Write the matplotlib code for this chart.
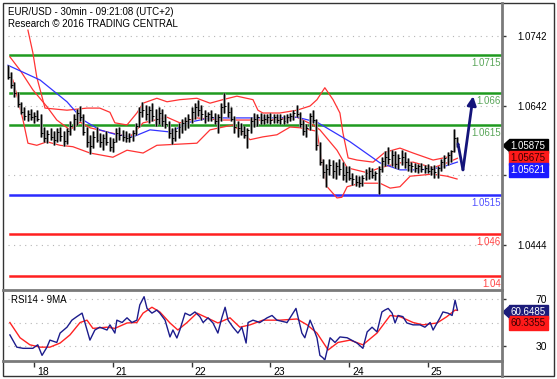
import numpy as np
import matplotlib.pyplot as plt
from matplotlib.lines import Line2D
from matplotlib.patches import Polygon, Rectangle
from matplotlib.transforms import blended_transform_factory, ScaledTranslation, IdentityTransform

plt.rcParams['font.family'] = ['Liberation Sans', 'DejaVu Sans']

# hourly bars, 17th 16:00 -> 25th 09:00 (weekend skipped)
start_hour = 16
day_labels = ['18', '21', '22', '23', '24', '25']

highs = [
    1.0700, 1.0690, 1.0676, 1.0662, 1.0648, 1.0640, 1.0636, 1.0638, 1.0634, 1.0636,
    1.0630, 1.0612, 1.0608, 1.0610, 1.0606, 1.0611, 1.0612, 1.0607, 1.0610, 1.0620,
    1.0630, 1.0638, 1.0642, 1.0630, 1.0612, 1.0600, 1.0606, 1.0612, 1.0604, 1.0602,
    1.0606, 1.0598, 1.0596, 1.0610, 1.0612, 1.0608, 1.0606, 1.0604, 1.0608, 1.0618,
    1.0640, 1.0648, 1.0644, 1.0642, 1.0646, 1.0638, 1.0640, 1.0638, 1.0630, 1.0620,
    1.0610, 1.0612, 1.0618, 1.0624, 1.0626, 1.0630, 1.0640, 1.0646, 1.0651, 1.0644,
    1.0636, 1.0634, 1.0636, 1.0632, 1.0630, 1.0646, 1.0661, 1.0648, 1.0640, 1.0628,
    1.0620, 1.0618, 1.0614, 1.0610, 1.0626, 1.0632, 1.0630, 1.0632, 1.0630, 1.0631,
    1.0632, 1.0630, 1.0631, 1.0630, 1.0629, 1.0630, 1.0632, 1.0636, 1.0643, 1.0634,
    1.0622, 1.0616, 1.0632, 1.0636, 1.0624, 1.0590, 1.0566, 1.0560, 1.0566, 1.0565,
    1.0562, 1.0566, 1.0562, 1.0556, 1.0556, 1.0546, 1.0544, 1.0542, 1.0544, 1.0552,
    1.0555, 1.0554, 1.0550, 1.0556, 1.0570, 1.0578, 1.0584, 1.0580, 1.0578, 1.0574,
    1.0579, 1.0576, 1.0568, 1.0562, 1.0561, 1.0560, 1.0561, 1.0558, 1.0560, 1.0556,
    1.0558, 1.0556, 1.0566, 1.0572, 1.0576, 1.0580, 1.0609, 1.0598]
lows = [
    1.0680, 1.0668, 1.0655, 1.0640, 1.0630, 1.0622, 1.0620, 1.0622, 1.0618, 1.0621,
    1.0598, 1.0590, 1.0589, 1.0593, 1.0586, 1.0590, 1.0592, 1.0585, 1.0588, 1.0600,
    1.0608, 1.0615, 1.0620, 1.0600, 1.0584, 1.0574, 1.0582, 1.0590, 1.0584, 1.0580,
    1.0586, 1.0578, 1.0577, 1.0590, 1.0594, 1.0592, 1.0590, 1.0590, 1.0592, 1.0600,
    1.0612, 1.0626, 1.0622, 1.0618, 1.0620, 1.0614, 1.0616, 1.0614, 1.0610, 1.0596,
    1.0588, 1.0592, 1.0596, 1.0604, 1.0608, 1.0610, 1.0618, 1.0624, 1.0628, 1.0622,
    1.0618, 1.0620, 1.0620, 1.0616, 1.0604, 1.0620, 1.0632, 1.0626, 1.0620, 1.0604,
    1.0598, 1.0600, 1.0596, 1.0582, 1.0604, 1.0612, 1.0614, 1.0616, 1.0616, 1.0618,
    1.0617, 1.0618, 1.0618, 1.0616, 1.0617, 1.0618, 1.0620, 1.0622, 1.0626, 1.0612,
    1.0600, 1.0598, 1.0608, 1.0618, 1.0580, 1.0558, 1.0540, 1.0527, 1.0544, 1.0540,
    1.0538, 1.0544, 1.0536, 1.0534, 1.0536, 1.0530, 1.0528, 1.0527, 1.0528, 1.0536,
    1.0538, 1.0540, 1.0536, 1.0516, 1.0548, 1.0556, 1.0560, 1.0556, 1.0554, 1.0552,
    1.0558, 1.0554, 1.0550, 1.0548, 1.0548, 1.0547, 1.0548, 1.0546, 1.0546, 1.0544,
    1.0540, 1.0539, 1.0550, 1.0554, 1.0558, 1.0562, 1.0576, 1.0584]
closes = [
    1.0684, 1.0672, 1.0660, 1.0645, 1.0634, 1.0628, 1.0630, 1.0626, 1.0628, 1.0624,
    1.0604, 1.0596, 1.0602, 1.0598, 1.0594, 1.0605, 1.0599, 1.0592, 1.0606, 1.0614,
    1.0624, 1.0632, 1.0626, 1.0605, 1.0590, 1.0585, 1.0598, 1.0594, 1.0590, 1.0596,
    1.0590, 1.0584, 1.0590, 1.0604, 1.0600, 1.0598, 1.0596, 1.0598, 1.0604, 1.0614,
    1.0634, 1.0636, 1.0630, 1.0636, 1.0628, 1.0624, 1.0632, 1.0620, 1.0616, 1.0604,
    1.0596, 1.0606, 1.0612, 1.0618, 1.0620, 1.0624, 1.0634, 1.0640, 1.0636, 1.0630,
    1.0628, 1.0630, 1.0626, 1.0620, 1.0626, 1.0640, 1.0642, 1.0634, 1.0624, 1.0612,
    1.0610, 1.0606, 1.0600, 1.0608, 1.0620, 1.0624, 1.0626, 1.0622, 1.0624, 1.0626,
    1.0622, 1.0626, 1.0622, 1.0624, 1.0620, 1.0626, 1.0628, 1.0632, 1.0630, 1.0616,
    1.0606, 1.0610, 1.0628, 1.0622, 1.0586, 1.0562, 1.0548, 1.0552, 1.0558, 1.0550,
    1.0556, 1.0552, 1.0544, 1.0548, 1.0540, 1.0538, 1.0534, 1.0532, 1.0540, 1.0546,
    1.0550, 1.0544, 1.0546, 1.0552, 1.0564, 1.0570, 1.0566, 1.0572, 1.0560, 1.0568,
    1.0570, 1.0562, 1.0558, 1.0556, 1.0554, 1.0556, 1.0552, 1.0554, 1.0550, 1.0552,
    1.0548, 1.0554, 1.0562, 1.0568, 1.0572, 1.0578, 1.0596, 1.05875]

# moving average (blue)
ma_pos = [0, 9.8, 18.0, 22.9, 28.0, 33.2, 38.1, 43.3, 49.4, 55.5, 61.6, 69.8,
          79.9, 88.1, 94.2, 104.3, 113.4, 119.5, 125.6, 131.7, 137]
ma_val = [1.0700, 1.0679, 1.0648, 1.0622, 1.0608, 1.0601, 1.0598, 1.0608, 1.0605,
          1.0619, 1.0625, 1.0625, 1.0625, 1.0626, 1.0619, 1.0591, 1.0561, 1.0551,
          1.0551, 1.0554, 1.05621]

# bollinger bands (red)
bb_up_pos = [6.1, 7.6, 8.8, 10.4, 11.3, 18.0, 24.1, 28.0, 31.1, 32.6, 36.3, 39.3,
             41.2, 45.4, 48.5, 52.4, 57.6, 61.6, 65.5, 69.8, 74.7, 76.2, 77.7, 82.9,
             88.1, 92.1, 94.2, 96.6, 99.1, 101.2, 102.1, 103.7, 106.4, 111.3, 114.9,
             119.5, 123.5, 129.6, 133.8, 136.3]
bb_up_val = [1.0750, 1.0718, 1.0683, 1.0655, 1.0639, 1.0636, 1.0639, 1.0639, 1.0633,
             1.0618, 1.0615, 1.0632, 1.0646, 1.0653, 1.0648, 1.0651, 1.0653, 1.0646,
             1.0651, 1.0656, 1.0651, 1.0636, 1.0632, 1.0632, 1.0636, 1.0642, 1.0651,
             1.0668, 1.0651, 1.0632, 1.0604, 1.0568, 1.0565, 1.0562, 1.0576, 1.0582,
             1.0575, 1.0565, 1.0569, 1.0579]
bb_mid_pos = [0.6, 3.7, 7.6, 11.9, 14.9, 18.9, 22.0, 25.0, 31.1, 37.2, 41.2, 48.5,
              52.4, 57.6, 64.6, 70.7, 79.9, 88.1, 93.0, 95.1, 100.3, 103.4, 109.5,
              113.4, 119.5, 123.5, 129.6, 133.8, 137]
bb_mid_val = [1.0712, 1.0693, 1.0665, 1.0641, 1.0622, 1.0608, 1.0619, 1.0611, 1.0604,
              1.0598, 1.0618, 1.0626, 1.0618, 1.0625, 1.0622, 1.0622, 1.0622, 1.0626,
              1.0615, 1.0608, 1.0579, 1.0554, 1.0547, 1.0554, 1.0561, 1.0562, 1.0554,
              1.0561, 1.05675]
bb_low_pos = [1.5, 2.7, 4.6, 6.1, 8.8, 11.9, 15.9, 19.8, 25.0, 32.0, 36.3, 41.2,
              45.4, 57.6, 61.6, 68.6, 73.8, 77.7, 82.0, 86.0, 89.0, 94.2, 96.0, 97.3,
              100.3, 101.8, 103.4, 107.3, 113.4, 116.5, 119.5, 122.6, 129.6, 133.8, 136.9]
bb_low_val = [1.0679, 1.0658, 1.0622, 1.0589, 1.0586, 1.0591, 1.0586, 1.0584, 1.0575,
              1.0569, 1.0579, 1.0575, 1.0586, 1.0589, 1.0608, 1.0615, 1.0594, 1.0598,
              1.0601, 1.0612, 1.0611, 1.0606, 1.0555, 1.0527, 1.0511, 1.0512, 1.0527,
              1.0532, 1.0532, 1.0525, 1.0527, 1.0542, 1.0545, 1.0542, 1.0538]

# levels
green_levels = [1.0715, 1.066, 1.0615]
blue_levels = [1.0515]
red_levels = [1.046, 1.04]
price_ticks = [1.0742, 1.0642, 1.0543, 1.0444]
price_labels = ['1.0742', '1.0642', '', '1.0444']  # 1.0543 sits under the value boxes

# projection arrow
arrow_pos = [137.2, 138.7, 141.8]
arrow_val = [1.0588, 1.0551, 1.0656]

# RSI14 and its 9MA
rsi_pos = [0.6, 2.7, 4.6, 7.6, 9.1, 10.4, 11.9, 12.8, 14.9, 15.9, 18.0, 19.5, 21.0,
           22.6, 23.5, 25.0, 26.5, 28.0, 30.2, 31.1, 32.6, 33.2, 34.8, 36.3, 37.8,
           39.3, 40.2, 41.5, 42.4, 43.9, 45.4, 46.3, 47.9, 49.4, 50.3, 51.5, 52.4,
           54.0, 55.5, 57.0, 58.5, 59.5, 61.0, 62.5, 64.0, 65.2, 66.2, 67.1, 68.6,
           70.1, 71.3, 72.6, 73.2, 74.7, 76.8, 79.0, 80.5, 82.0, 85.1, 86.9, 87.8,
           88.4, 89.6, 90.5, 92.1, 93.0, 94.2, 95.1, 96.0, 96.6, 98.2, 99.7, 101.2,
           103.4, 106.4, 108.2, 109.5, 111.0, 112.5, 114.0, 114.9, 115.9, 117.1,
           118.0, 118.9, 120.4, 121.6, 123.5, 125.6, 127.1, 128.7, 129.6, 130.8,
           131.7, 132.6, 134.1, 135.4, 136.3, 137]
rsi_val = [39.4, 29, 28, 28, 31, 22, 29, 35, 33, 41, 46, 52, 55, 58, 49.6, 35, 43.6,
           46, 43.6, 48, 41, 52, 50, 54, 50, 52, 65, 72, 62, 58, 60.6, 58, 52, 37.7,
           43.6, 36.8, 43.6, 58, 56, 59, 55, 50, 54, 49.6, 41, 54, 63, 52, 46, 41, 46,
           32.5, 50, 52, 50, 54, 56, 52, 50, 58, 62, 55, 41, 37, 52, 46, 37, 22, 20,
           18, 37, 33, 37.7, 37, 32.5, 28, 42, 46, 42, 59, 60.6, 62, 58, 49.6, 56, 55,
           49.6, 48, 48, 46, 50, 43.6, 49.6, 54, 59, 58, 56, 69, 60.6485]
rsi_ma_pos = [0.6, 3.7, 6.7, 9.8, 12.8, 15.9, 18.9, 22.0, 24.1, 25.9, 30.2, 32.6,
              36.3, 39.3, 41.2, 43.9, 46.3, 49.4, 51.8, 54.6, 57.6, 60.7, 64.0, 67.7,
              70.7, 73.8, 77.7, 82.9, 88.1, 91.2, 94.2, 97.6, 100.6, 104.3, 108.2,
              112.5, 116.5, 119.5, 123.5, 126.5, 130.8, 133.8, 136.3, 137]
rsi_ma_val = [50, 37, 31, 29, 29, 32.5, 39.4, 50, 52, 45, 46, 45, 49.6, 50, 58, 63,
              59, 49.6, 43.6, 50, 58, 54, 49.6, 54, 46, 48, 52, 52, 53, 48, 41, 26.6,
              33, 35, 31, 41, 56, 55, 50, 48, 49.6, 55, 60.6, 60.3355]
rsi_ticks = [70, 30]
rsi_grid = [70, 50, 30]

W, H = 557, 379
fig = plt.figure(figsize=(W / 100, H / 100), dpi=100)
ax = fig.add_axes([3 / W, 1 - 289 / H, 499 / W, 286 / H])
rsi = fig.add_axes([3 / W, 1 - 361 / H, 499 / W, 71 / H], sharex=ax)

x = np.arange(len(closes))
xlim = (-1.5, 150.6)

# price panel
for lv in price_ticks:
    ax.axhline(lv, color='#b5b5b5', lw=0.8, ls=(0, (1, 4)), xmin=0.01, zorder=1)
ax.plot(bb_up_pos, bb_up_val, color='#ff3333', lw=0.9, zorder=3)
ax.plot(bb_mid_pos, bb_mid_val, color='#ff3333', lw=0.9, zorder=3)
ax.plot(bb_low_pos, bb_low_val, color='#ff3333', lw=0.9, zorder=3)
ax.plot(ma_pos, ma_val, color='#3333ff', lw=0.9, zorder=3)
ax.vlines(x, lows, highs, color='#8a8a8a', lw=2.0, zorder=4)
ax.vlines(x, lows, highs, color='black', lw=0.7, zorder=5)
ax.hlines(closes, x, x + 0.6, color='black', lw=0.7, zorder=5)

blend = blended_transform_factory(ax.transAxes, ax.transData)
for levels, lc, tc in [(green_levels, '#1f9a1f', '#5aa65a'),
                       (blue_levels, '#2b2bff', '#5050ff'),
                       (red_levels, '#ff2020', '#ff4444')]:
    for lv in levels:
        ax.axhline(lv, color=lc, lw=1.8, xmin=0.014, zorder=2)
        ax.annotate(f'{lv:g}', xy=(1, lv), xycoords=blend, xytext=(-1, -2),
                    textcoords='offset points', ha='right', va='top',
                    fontsize=7, color=tc)

ax.plot(arrow_pos[:2], arrow_val[:2], color='#14147a', lw=2, zorder=6,
        solid_capstyle='round')
ax.annotate('', xy=(arrow_pos[2], arrow_val[2]), xytext=(arrow_pos[1], arrow_val[1]),
            arrowprops=dict(arrowstyle='-|>', color='#14147a', lw=2,
                            mutation_scale=13, shrinkA=0, shrinkB=0), zorder=6)

ax.set_xlim(*xlim)
ax.set_ylim(1.03813, 1.07887)
ax.yaxis.tick_right()
ax.set_yticks(price_ticks)
ax.set_yticklabels(price_labels)
ax.tick_params(axis='y', length=3, width=1, color='#333333', pad=8, labelsize=7)
ax.tick_params(axis='x', bottom=False, labelbottom=False)
for s in ax.spines.values():
    s.set_visible(False)

# RSI panel
rsi.plot(rsi_ma_pos, rsi_ma_val, color='#ff2222', lw=1, zorder=3)
rsi.plot(rsi_pos, rsi_val, color='#1c1c8c', lw=1, zorder=4)
for g in rsi_grid:
    rsi.axhline(g, color='#b5b5b5', lw=0.8, ls=(0, (1, 4)), xmin=0.01, zorder=1)
rsi.set_ylim(17.2, 77.7)
rsi.yaxis.tick_right()
rsi.set_yticks(rsi_ticks)
rsi.tick_params(axis='y', length=3, width=1, color='#333333', pad=21, labelsize=7.5)
day_pos = [(24 - start_hour) + 24 * k for k in range(len(day_labels))]
rsi.set_xticks(day_pos)
rsi.set_xticklabels(day_labels)
rsi.tick_params(axis='x', length=4, width=1, color='#333333', pad=0, labelsize=7.5)
shift = ScaledTranslation(3 / 100, 0, fig.dpi_scale_trans)
for lab in rsi.get_xticklabels():
    lab.set_horizontalalignment('left')
    lab.set_transform(lab.get_transform() + shift)
for s in rsi.spines.values():
    s.set_visible(False)
rsi.text(8 / 499, 0.93, 'RSI14 - 9MA', transform=rsi.transAxes, fontsize=7,
         va='top', ha='left')

# headers
fig.text(8 / W, 1 - 12 / H, 'EUR/USD - 30min - 09:21:08 (UTC+2)', fontsize=7,
         va='center', ha='left')
fig.text(8 / W, 1 - 24 / H, 'Research \u00a9 2016 TRADING CENTRAL', fontsize=7,
         va='center', ha='left')

# frame lines
fig.add_artist(Rectangle((3 / W, 3 / H), 551 / W, 373 / H, transform=fig.transFigure,
                         fill=False, ec='#333333', lw=1))
for (x0, y0, x1, y1) in [(502, 3, 502, 376), (3, 289.5, 502, 289.5), (3, 361, 502, 361)]:
    fig.add_artist(Line2D([x0 / W, x1 / W], [1 - y0 / H, 1 - y1 / H],
                          transform=fig.transFigure, color='#7a7a7a', lw=2))


def value_box(axis, val, text, fc, tc, dy, pointer=False):
    tr = blended_transform_factory(axis.transAxes, axis.transData)
    axis.annotate(text, xy=(1, val), xycoords=tr, xytext=(6.3, dy),
                  textcoords='offset points', ha='left', va='center', fontsize=7,
                  color=tc, annotation_clip=False, zorder=10,
                  bbox=dict(boxstyle='square,pad=0.2', fc=fc, ec=fc))
    if pointer:
        px, py = tr.transform((1, val))
        py += dy * 100 / 72
        fig.add_artist(Polygon([(px + 1, py), (px + 7, py + 5.5), (px + 7, py - 5.5)],
                               closed=True, fc=fc, ec=fc, transform=IdentityTransform()))


value_box(ax, closes[-1], '1.05875', 'black', 'white', -1, pointer=True)
value_box(ax, bb_mid_val[-1], '1.05675', '#ff1a1a', '#3a0000', 0)
value_box(ax, ma_val[-1], '1.05621', '#1a1aff', 'white', -6)
value_box(rsi, rsi_val[-1], '60.6485', '#1c1c7a', 'white', -1.5, pointer=True)
value_box(rsi, rsi_ma_val[-1], '60.3355', '#ff1a1a', '#3a0000', -9)

fig.savefig('out.png', dpi=100)
